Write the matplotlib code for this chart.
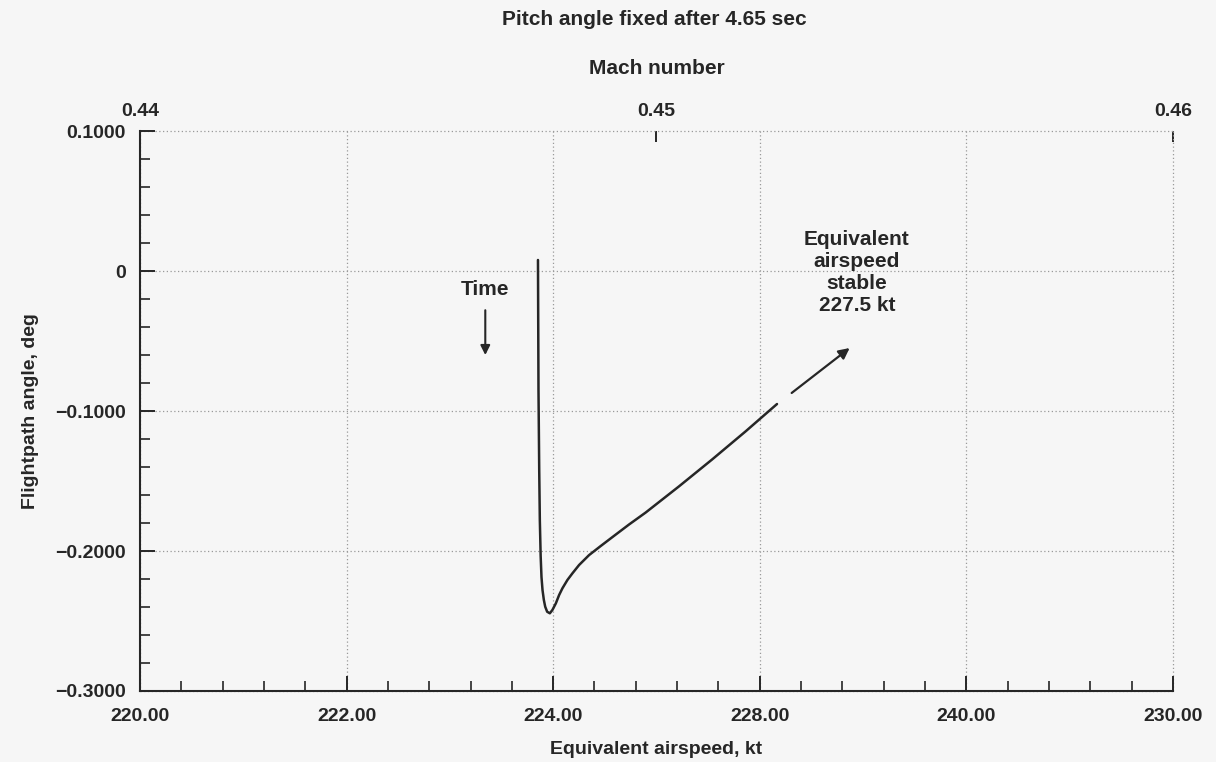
import matplotlib
matplotlib.use("Agg")
from matplotlib import pyplot as plt
from matplotlib.ticker import MultipleLocator

plt.rcParams['font.family'] = ['Liberation Sans', 'DejaVu Sans']
plt.rcParams['font.weight'] = 'bold'
plt.rcParams['axes.labelweight'] = 'bold'

# flightpath trace: equivalent airspeed (kt) vs flightpath angle (deg)
airspeed = [223.853, 223.858, 223.865, 223.871, 223.879, 223.887, 223.897, 223.910,
            223.923, 223.942, 223.968, 223.993, 224.026, 224.058, 224.090, 224.138,
            224.187, 224.251, 224.348, 224.461, 224.573, 224.734, 224.896, 225.053,
            225.217, 225.539, 225.862, 226.167]
flightpath = [0.0079, -0.0850, -0.1420, -0.1780, -0.2036, -0.2186, -0.2279, -0.2350,
              -0.2398, -0.2434, -0.2445, -0.2421, -0.2374, -0.2314, -0.2266, -0.2207,
              -0.2159, -0.2100, -0.2029, -0.1964, -0.1901, -0.1811, -0.1725, -0.1634,
              -0.1539, -0.1346, -0.1146, -0.0950]

x_ticks = [220, 222, 224, 226, 228, 230]
x_tick_labels = ["220.00", "222.00", "224.00", "228.00", "240.00", "230.00"]
y_ticks = [0.1, 0.0, -0.1, -0.2, -0.3]
y_tick_labels = ["0.1000", "0", "\u22120.1000", "\u22120.2000", "\u22120.3000"]
mach_ticks = [0.44, 0.45, 0.46]
mach_tick_labels = ["0.44", "0.45", "0.46"]

ink = "#262626"
bg = "#f6f6f6"

fig = plt.figure(figsize=(12.16, 7.62), dpi=100, facecolor=bg)
ax = fig.add_axes([0.1151, 0.0932, 0.8495, 0.7348], facecolor=bg)

ax.plot(airspeed, flightpath, color=ink, lw=1.8, solid_capstyle="round",
        solid_joinstyle="round")

ax.set_xlim(220, 230)
ax.set_ylim(-0.3, 0.1)
ax.set_xticks(x_ticks)
ax.set_xticklabels(x_tick_labels)
ax.set_yticks(y_ticks)
ax.set_yticklabels(y_tick_labels)
ax.xaxis.set_minor_locator(MultipleLocator(0.4))
ax.yaxis.set_minor_locator(MultipleLocator(0.02))

ax.spines["top"].set_visible(False)
ax.spines["right"].set_visible(False)
for s in ("left", "bottom"):
    ax.spines[s].set_color(ink)
    ax.spines[s].set_linewidth(1.5)

ax.tick_params(which="major", direction="in", length=11, width=1.4, color=ink,
               labelsize=14, labelcolor=ink)
ax.tick_params(which="minor", direction="in", length=7, width=1.2, color=ink)
ax.tick_params(axis="x", which="major", pad=12)
ax.tick_params(axis="y", which="major", pad=10)

ax.grid(True, which="major", linestyle=(0, (1, 2)), color="#9a9a9a", lw=0.9)
ax.set_axisbelow(True)
for gl in ax.get_xgridlines() + ax.get_ygridlines():
    gl.set_clip_on(False)

ax.set_xlabel("Equivalent airspeed, kt", fontsize=14, color=ink, labelpad=12)
ax.set_ylabel("Flightpath angle, deg", fontsize=14, color=ink, labelpad=12)

# Mach number scale along the top
secax = ax.secondary_xaxis("top", functions=(lambda v: 0.44 + (v - 220) * 0.002,
                                             lambda m: 220 + (m - 0.44) / 0.002))
secax.set_xticks(mach_ticks)
secax.set_xticklabels(mach_tick_labels)
secax.spines["top"].set_visible(False)
secax.tick_params(direction="in", length=8, width=1.4, color=ink, labelsize=14,
                  labelcolor=ink, pad=8)
secax.set_xlabel("Mach number", fontsize=15, color=ink, labelpad=21)

fig.text(0.538, 0.974, "Pitch angle fixed after 4.65 sec", ha="center", va="center",
         fontsize=15, color=ink)

# annotations
ax.text(223.343, -0.0129, "Time", ha="center", va="center", fontsize=15, color=ink)
ax.annotate("", xy=(223.343, -0.0620), xytext=(223.343, -0.0260),
            arrowprops=dict(arrowstyle="-|>", color=ink, lw=1.5, mutation_scale=14))
ax.text(226.94, -0.0007, "Equivalent\nairspeed\nstable\n227.5 kt", ha="center",
        va="center", fontsize=15, color=ink, linespacing=1.2)
ax.annotate("", xy=(226.870, -0.0550), xytext=(226.309, -0.0871),
            arrowprops=dict(arrowstyle="-|>", color=ink, lw=1.6, mutation_scale=16,
                            shrinkA=0, shrinkB=0))

fig.savefig("out.png", dpi=100, facecolor=bg)
